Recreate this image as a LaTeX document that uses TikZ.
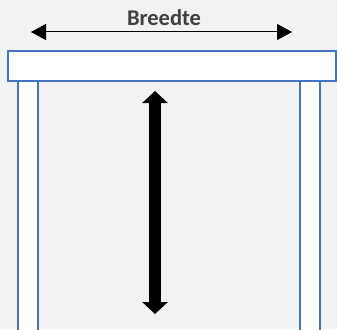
\documentclass[tikz,border=0pt]{standalone}
\usepackage{fontspec}
\setmainfont{Carlito}
\usetikzlibrary{arrows.meta}
\definecolor{achter}{HTML}{F2F2F2}
\definecolor{rand}{HTML}{4472C4}
\definecolor{tekst}{HTML}{404040}
\tikzset{
  plank/.style={draw=rand, line width=2pt, fill=white},
  maat/.style={line width=1pt, {Triangle[length=15pt,width=16pt]}-{Triangle[length=15pt,width=16pt]}},
  hoogte/.style={line width=12pt, {Triangle[length=12pt,width=25pt]}-{Triangle[length=12pt,width=25pt]}}
}
\begin{document}
\begin{tikzpicture}[x=1pt,y=-1pt]

    \useasboundingbox (0,0) rectangle (337,329);
    \clip (0,0) rectangle (337,329);
    \fill[achter] (0,0) rectangle (337,329);

    % poten
    \filldraw[plank] (18,81) rectangle (38,340);
    \filldraw[plank] (300,81) rectangle (320,340);
    % blad
    \filldraw[plank] (8,51) rectangle (336,81);

    \coordinate (B1) at (31,32);
    \coordinate (B2) at (292,32);
    \draw[maat] (B1) -- (B2);
    \node[anchor=base, text=tekst, font=\fontsize{22.5}{27}\selectfont\bfseries] (breedte) at (164,26) {Breedte};

    \coordinate (H1) at (155,91);
    \coordinate (H2) at (155,314);
    \draw[hoogte] (H1) -- (H2);
  \end{tikzpicture}
\end{document}
